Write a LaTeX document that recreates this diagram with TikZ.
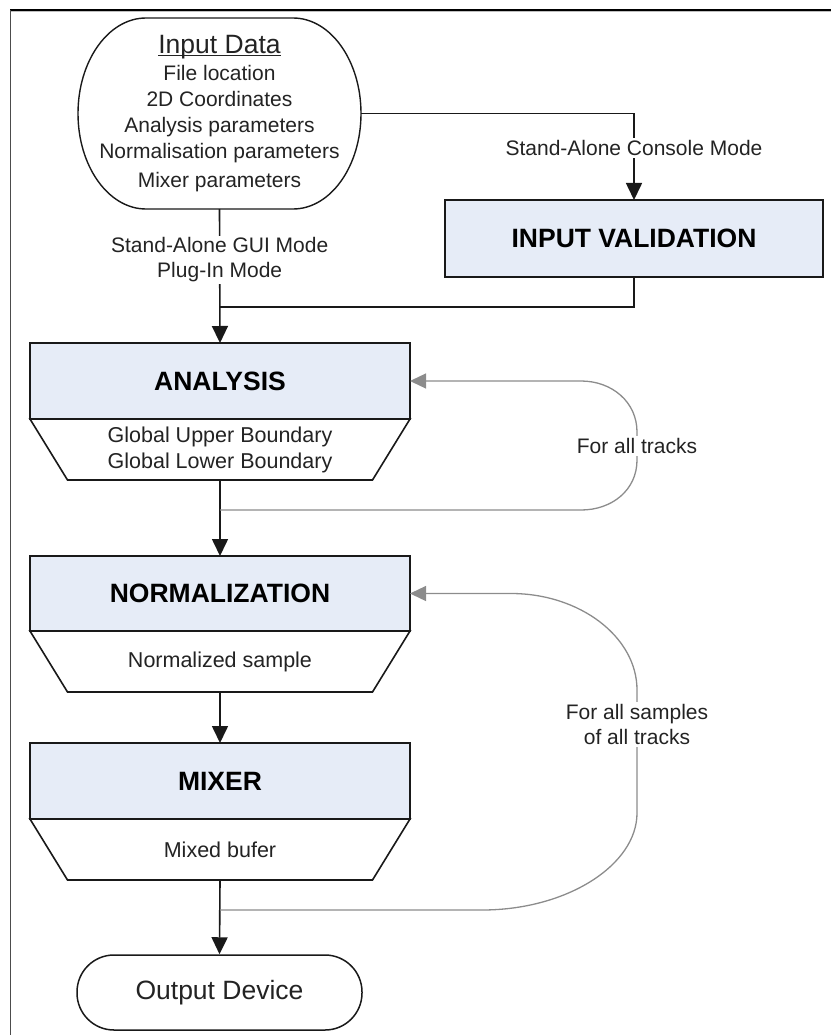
\documentclass[tikz,border=0pt]{standalone}
\usepackage{fontspec}
\setmainfont{Liberation Sans}
\usetikzlibrary{arrows.meta}
\definecolor{boxfill}{RGB}{230,236,247}
\definecolor{loopgray}{RGB}{140,140,140}
\definecolor{txt}{RGB}{35,35,35}
\begin{document}
\begin{tikzpicture}[x=1pt,y=-1pt,
  procbox/.style={draw=black!90, line width=1.6pt, fill=boxfill, minimum width=380pt, minimum height=76pt, inner sep=0pt, outer sep=0pt, font=\fontsize{26.5}{30}\selectfont\bfseries},
  outbox/.style={minimum width=305pt, minimum height=61pt, inner sep=0pt, outer sep=0pt, align=center, text=txt, font=\fontsize{21.5}{26}\selectfont},
  trap/.style={draw=black!90, line width=1.6pt, fill=white, line join=miter},
  flow/.style={draw=black!90, line width=1.6pt},
  arr/.style={-{Triangle[length=17pt,width=16pt]}},
  loopline/.style={draw=loopgray, line width=1.3pt},
  garr/.style={-{Triangle[length=16pt,width=15pt]}, shorten >=0pt},
  lbl/.style={fill=white, inner sep=2pt, align=center, text=txt, font=\fontsize{21}{25}\selectfont},
  termbox/.style={draw=black!90, line width=1.5pt, rounded corners=37pt, minimum width=285pt, minimum height=75pt, inner sep=0pt, text=txt, font=\fontsize{26.5}{30}\selectfont}
]
\useasboundingbox (0,0) rectangle (831,1035);
% frame
\draw[line width=1.5pt] (10,10) -- (831,10);
\draw[gray!50, line width=0.8pt] (10,11.8) -- (831,11.8);
\draw[black!70, line width=1pt] (10.5,10) -- (10.5,1035);

% Input data terminal
\draw[black!90, line width=1.4pt] (146,18) -- (293,18)
  .. controls (330.6,18) and (361,60.8) .. (361,113.5)
  .. controls (361,166.2) and (330.6,209) .. (293,209)
  -- (146,209)
  .. controls (108.4,209) and (78,166.2) .. (78,113.5)
  .. controls (78,60.8) and (108.4,18) .. cycle;
\node[minimum width=283pt, minimum height=191pt, inner sep=0pt, outer sep=0pt, align=center, text=txt, font=\fontsize{21}{26}\selectfont] (in) at (219.5,113.5)
  {{\fontsize{26.5}{30}\selectfont\underline{\raisebox{0pt}[\height][0pt]{Input Data}}}\\[1pt]File location\\2D Coordinates\\Analysis parameters\\Normalisation parameters\\[3pt]Mixer parameters};

% input validation
\node[procbox, minimum width=378pt, minimum height=77pt] (iv) at (634,238.5) {INPUT VALIDATION};

% analysis
\node[procbox] (an) at (220,381) {ANALYSIS};
\node[outbox] (ao) at (220,449.5) {};
\draw[trap] (an.south west) -- (an.south east) -- (ao.south east) -- (ao.south west) -- cycle;
\node[outbox] (aot) at (ao.center) {Global Upper Boundary\\Global Lower Boundary};

% normalization
\node[procbox, minimum height=75pt] (no) at (220,593.5) {NORMALIZATION};
\node[outbox] (nob) at (220,661.5) {};
\draw[trap] (no.south west) -- (no.south east) -- (nob.south east) -- (nob.south west) -- cycle;
\node[outbox] (nobt) at (nob.center) {Normalized sample};

% mixer
\node[procbox] (mx) at (220,781) {MIXER};
\node[outbox] (mo) at (220,849.5) {};
\draw[trap] (mx.south west) -- (mx.south east) -- (mo.south east) -- (mo.south west) -- cycle;
\node[outbox] (mot) at (mo.center) {Mixed bufer};

% output device
\node[termbox] (od) at (219.5,992.5) {Output Device};

% connectors
\coordinate (j1) at (220,307);
\draw[flow, arr] (in.south) -- node[lbl, pos=0.38] {Stand-Alone GUI Mode\\Plug-In Mode} (an.north);
\draw[flow, arr] (in.east) -| node[lbl, pos=0.7] {Stand-Alone Console Mode} (iv.north);
\draw[flow] (iv.south) |- (j1);

\draw[flow, arr] (ao.south) -- (no.north);
\draw[flow, arr] (nob.south) -- (mx.north);
\draw[flow, arr] (mo.south) -- (od.north);

% loops
\coordinate (l1) at (220,510);
\draw[loopline, garr] (l1) -- (581,510)
  .. controls (612,510) and (637,490) .. (637,460)
  -- node[lbl] {For all tracks} (637,432)
  .. controls (637,402) and (612,381) .. (581,381) -- (an.east);

\coordinate (l2) at (220,910);
\draw[loopline, garr] (l2) -- (482,910)
  .. controls (567,910) and (637,865) .. (637,813)
  -- node[lbl, pos=0.72] {For all samples\\of all tracks} (637,690)
  .. controls (637,637) and (580,593.5) .. (511,593.5) -- (no.east);
\end{tikzpicture}
\end{document}
